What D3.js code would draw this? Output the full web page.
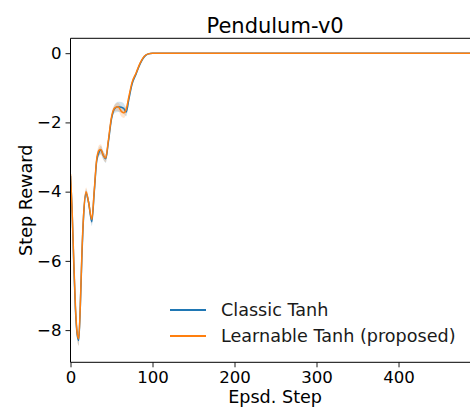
<!DOCTYPE html>
<html>
<head>
<meta charset="utf-8">
<script src="https://cdn.jsdelivr.net/npm/d3@7"></script>
<style>
  body { margin: 0; background: #fff; }
  svg { font-family: "DejaVu Sans", sans-serif; }
</style>
</head>
<body>
<svg id="chart" width="470" height="407"></svg>
<script>
// episode steps sampled from the plot
var steps = [0, 2, 4, 6, 8, 10, 12, 14, 16, 19, 22, 26, 29, 32, 35, 37, 40, 43, 46, 50,
             54, 58, 62, 65, 68, 71, 75, 80, 85, 90, 95, 100, 110, 150, 200, 300, 400, 499];

var classicMean = [-3.55, -4.6, -6.1, -7.4, -8.1, -8.3, -7.3, -5.8, -4.7, -4.05, -4.3, -4.87, -4.0, -3.1, -2.85, -2.8, -2.95, -3.05, -2.6, -1.9,
                   -1.6, -1.55, -1.56, -1.6, -1.7, -1.35, -0.9, -0.6, -0.3, -0.1, -0.02, -0.005, 0, 0, 0, 0, 0, 0];
var classicStd  = [0.1, 0.15, 0.15, 0.15, 0.15, 0.15, 0.15, 0.12, 0.12, 0.12, 0.12, 0.12, 0.12, 0.12, 0.12, 0.12, 0.12, 0.12, 0.1, 0.1,
                   0.12, 0.15, 0.15, 0.15, 0.12, 0.1, 0.06, 0.05, 0.04, 0.03, 0.02, 0.01, 0, 0, 0, 0, 0, 0];

var learnMean = [-3.5, -4.55, -6.0, -7.3, -8.05, -8.25, -7.25, -5.7, -4.65, -4.0, -4.3, -4.8, -3.95, -3.05, -2.8, -2.78, -2.95, -3.03, -2.55, -1.85,
                 -1.58, -1.55, -1.68, -1.72, -1.62, -1.28, -0.85, -0.57, -0.28, -0.09, -0.02, -0.005, 0, 0, 0, 0, 0, 0];
var learnStd  = [0.1, 0.15, 0.18, 0.2, 0.2, 0.2, 0.18, 0.15, 0.12, 0.12, 0.12, 0.12, 0.12, 0.12, 0.15, 0.15, 0.12, 0.12, 0.1, 0.1,
                 0.1, 0.12, 0.15, 0.15, 0.12, 0.1, 0.06, 0.05, 0.04, 0.03, 0.02, 0.01, 0, 0, 0, 0, 0, 0];

var seriesNames = ["Classic Tanh", "Learnable Tanh (proposed)"];
var seriesColors = ["#1f77b4", "#ff7f0e"];
var xTicks = [0, 100, 200, 300, 400];
var yTicks = [0, -2, -4, -6, -8];

var svg = d3.select("#chart");
var mLeft = 70.5, mRight = 479.7, mTop = 38.3, mBottom = 362.3;

var x = d3.scaleLinear().domain([0, 499]).range([mLeft, mRight]);
var y = d3.scaleLinear().domain([-8.93, 0.43]).range([mBottom, mTop]);

function rows(mean, std) {
  return steps.map(function(s, i) { return { s: s, m: mean[i], sd: std[i] }; });
}
var series = [rows(classicMean, classicStd), rows(learnMean, learnStd)];

svg.append("clipPath").attr("id", "clip")
  .append("rect").attr("x", mLeft).attr("y", mTop)
  .attr("width", mRight - mLeft).attr("height", mBottom - mTop);

var plot = svg.append("g").attr("clip-path", "url(#clip)");

var area = d3.area()
  .x(function(d) { return x(d.s); })
  .y0(function(d) { return y(d.m - d.sd); })
  .y1(function(d) { return y(d.m + d.sd); })
  .curve(d3.curveMonotoneX);

var line = d3.line()
  .x(function(d) { return x(d.s); })
  .y(function(d) { return y(d.m); })
  .curve(d3.curveMonotoneX);

series.forEach(function(data, i) {
  plot.append("path").datum(data)
    .attr("d", area)
    .attr("fill", seriesColors[i])
    .attr("fill-opacity", 0.2);
});
series.forEach(function(data, i) {
  plot.append("path").datum(data)
    .attr("d", line)
    .attr("fill", "none")
    .attr("stroke", seriesColors[i])
    .attr("stroke-width", 1.5);
});

// axes
var xAxis = svg.append("g")
  .attr("transform", "translate(0," + mBottom + ")")
  .call(d3.axisBottom(x).tickValues(xTicks).tickSize(5).tickPadding(4).tickFormat(d3.format("d")));
var yAxis = svg.append("g")
  .attr("transform", "translate(" + mLeft + ",0)")
  .call(d3.axisLeft(y).tickValues(yTicks).tickSize(5).tickPadding(4)
    .tickFormat(function(d) { return d < 0 ? "\u2212" + Math.abs(d) : d; }));

[xAxis, yAxis].forEach(function(g) {
  g.select(".domain").remove();
  g.selectAll(".tick line").attr("stroke", "#000").attr("stroke-width", 0.9);
  g.selectAll(".tick text").attr("fill", "#000").style("font-size", "16.6px")
    .style("font-family", "DejaVu Sans");
});

// spines
[[mLeft, mTop, mLeft, mBottom], [mLeft, mBottom, mRight, mBottom],
 [mLeft, mTop, mRight, mTop], [mRight, mTop, mRight, mBottom]].forEach(function(s) {
  svg.append("line").attr("x1", s[0]).attr("y1", s[1]).attr("x2", s[2]).attr("y2", s[3])
    .attr("stroke", "#000").attr("stroke-width", 1);
});

// title and labels
svg.append("text").attr("x", (mLeft + mRight) / 2).attr("y", 32.5)
  .attr("text-anchor", "middle").style("font-size", "21px").text("Pendulum-v0");
svg.append("text").attr("x", (mLeft + mRight) / 2).attr("y", 403)
  .attr("text-anchor", "middle").style("font-size", "17.6px").text("Epsd. Step");
svg.append("text").attr("transform", "translate(32," + ((mTop + mBottom) / 2) + ") rotate(-90)")
  .attr("text-anchor", "middle").style("font-size", "17.6px").text("Step Reward");

// legend
var legend = svg.append("g");
seriesNames.forEach(function(name, i) {
  var ly = 310 + i * 26;
  legend.append("line").attr("x1", 170).attr("x2", 206).attr("y1", ly).attr("y2", ly)
    .attr("stroke", seriesColors[i]).attr("stroke-width", 2);
  legend.append("text").attr("x", 221).attr("y", ly + 6)
    .style("font-size", "17.6px").attr("fill", "#1a1a1a").text(name);
});
</script>
</body>
</html>
